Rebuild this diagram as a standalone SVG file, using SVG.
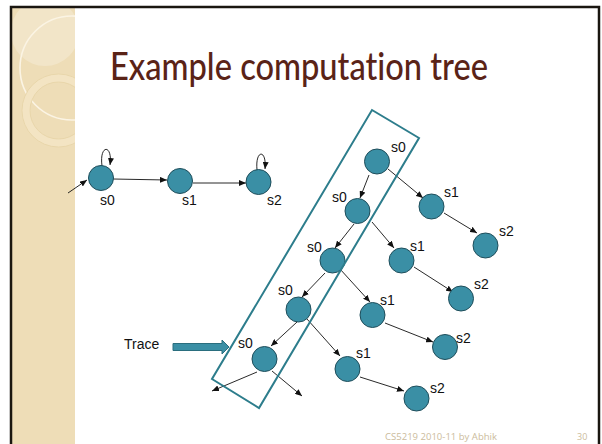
<svg xmlns="http://www.w3.org/2000/svg" width="602" height="444" viewBox="0 0 602 444">
<style>
.node{fill:#3A8FA5;stroke:#1E4D5A;stroke-width:1}
.lbl{font-family:"Liberation Sans",Arial,sans-serif;font-size:14px;fill:#111}
.edge{stroke:#111;stroke-width:0.9;fill:none;marker-end:url(#ah)}
</style>
<defs>
<marker id="ah" markerUnits="userSpaceOnUse" markerWidth="8" markerHeight="6" refX="7" refY="3" orient="auto">
<path d="M0,0 L7,3 L0,6 Z" fill="#111"/>
</marker>
<clipPath id="pc"><rect x="12" y="8" width="63" height="436"/></clipPath>
</defs>
<rect x="0" y="0" width="602" height="444" fill="#fff"/>
<g id="panel">
<rect x="12" y="8" width="63" height="436" fill="#EEDDB7"/>
<g clip-path="url(#pc)">
<circle cx="45" cy="32" r="34" fill="#F2E5C8"/>
<circle cx="72" cy="68" r="52" fill="none" stroke="#FBF4E4" stroke-width="1.6"/>
<circle cx="58.5" cy="110.5" r="32.5" fill="none" stroke="#F3E4C3" stroke-width="8"/>
<circle cx="58.5" cy="110.5" r="36.5" fill="none" stroke="#E6D3A6" stroke-width="0.8"/>
<circle cx="58.5" cy="110.5" r="28.5" fill="none" stroke="#E6D3A6" stroke-width="0.8"/>
</g>
</g>
<rect x="11" y="7" width="588" height="450" fill="none" stroke="#1A1610" stroke-width="2.5"/>
<text x="110" y="80" font-family="Lato,'Open Sans',sans-serif" font-size="39" font-weight="500" fill="#5A2317" style="font-variant-ligatures:none" textLength="378" lengthAdjust="spacingAndGlyphs">Example computation tree</text>

<g id="connectors">
<path class="edge" d="M68,193 L87,180"/>
<path class="edge" d="M102,166 C99,144 113,144 110,165"/>
<path class="edge" d="M113,179 L167,180"/>
<path class="edge" d="M193,183 L246,183"/>
<path class="edge" d="M257,170 C255,149 267,149 265,169"/>
<path class="edge" d="M369,175 L360,198"/>
<path class="edge" d="M388,169 L423,198"/>
<path class="edge" d="M354,224 L335,248"/>
<path class="edge" d="M372,222 L394,248"/>
<path class="edge" d="M444,213 L477,233"/>
<path class="edge" d="M414,267 L453,292"/>
<path class="edge" d="M325,273 L302,297"/>
<path class="edge" d="M340,269 L370,302"/>
<path class="edge" d="M385,323 L433,342"/>
<path class="edge" d="M297,322 L271,346"/>
<path class="edge" d="M307,319 L340,356"/>
<path class="edge" d="M360,377 L404,391"/>
<path class="edge" d="M257,372 L212,391"/>
<path class="edge" d="M272,371 L302,396"/>
</g>

<g id="m-s0"><circle class="node" cx="101" cy="178" r="12.5"/><text class="lbl" x="100" y="205">s0</text></g>
<g id="m-s1"><circle class="node" cx="180" cy="181" r="12.5"/><text class="lbl" x="182" y="205">s1</text></g>
<g id="m-s2"><circle class="node" cx="258.5" cy="182" r="12.5"/><text class="lbl" x="267" y="205">s2</text></g>

<g id="t-s0a"><circle class="node" cx="377" cy="161.5" r="12.5"/><text class="lbl" x="391" y="152">s0</text></g>
<g id="t-s0b"><circle class="node" cx="357.5" cy="211" r="12.5"/><text class="lbl" x="332" y="202">s0</text></g>
<g id="t-s0c"><circle class="node" cx="332.5" cy="260.5" r="12.5"/><text class="lbl" x="307" y="252">s0</text></g>
<g id="t-s0d"><circle class="node" cx="298.5" cy="309.5" r="12.5"/><text class="lbl" x="278" y="295">s0</text></g>
<g id="t-s0e"><circle class="node" cx="264.5" cy="359" r="12.5"/><text class="lbl" x="238" y="348">s0</text></g>
<g id="t-s1a"><circle class="node" cx="431.5" cy="206.5" r="12.5"/><text class="lbl" x="444" y="197">s1</text></g>
<g id="t-s1b"><circle class="node" cx="401.5" cy="260.5" r="12.5"/><text class="lbl" x="410" y="251">s1</text></g>
<g id="t-s1c"><circle class="node" cx="372.5" cy="315" r="12.5"/><text class="lbl" x="380" y="305">s1</text></g>
<g id="t-s1d"><circle class="node" cx="347.5" cy="369" r="12.5"/><text class="lbl" x="356" y="358">s1</text></g>
<g id="t-s2a"><circle class="node" cx="485.5" cy="245.5" r="12.5"/><text class="lbl" x="499" y="236">s2</text></g>
<g id="t-s2b"><circle class="node" cx="461" cy="298.5" r="12.5"/><text class="lbl" x="474" y="289">s2</text></g>
<g id="t-s2c"><circle class="node" cx="445" cy="347" r="12.5"/><text class="lbl" x="456" y="343">s2</text></g>
<g id="t-s2d"><circle class="node" cx="416.5" cy="398.5" r="12.5"/><text class="lbl" x="430" y="393">s2</text></g>

<g id="trace-box"><polygon points="372,110 419,138 259,408 212,379" fill="none" stroke="#2D7D8C" stroke-width="2"/></g>
<g id="trace">
<text class="lbl" x="124" y="349">Trace</text>
<polygon points="173,343.5 222,343.5 222,340 229,347 222,354 222,350.5 173,350.5" fill="#3A8FA5" stroke="#2A6E7E" stroke-width="1"/>
</g>
<text x="385" y="440" font-family="'Open Sans','Liberation Sans',sans-serif" font-size="9" fill="#CBBB9C" textLength="112" lengthAdjust="spacingAndGlyphs">CS5219 2010-11 by Abhik</text>
<text x="577" y="440" font-family="'Open Sans','Liberation Sans',sans-serif" font-size="9" fill="#CBBB9C">30</text>
</svg>
